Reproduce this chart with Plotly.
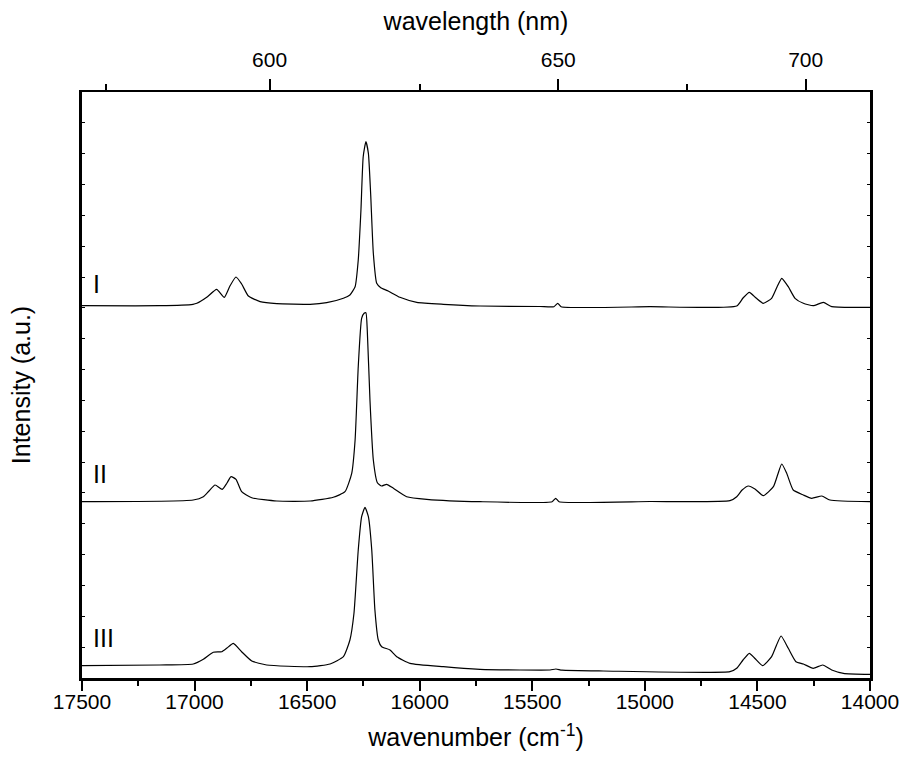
import plotly.graph_objects as go

# Raman spectra (wavenumber in cm-1, intensity in a.u.)
wn_I = [17500, 17155, 17007, 16990, 16946, 16902, 16868, 16843, 16816, 16791,
        16761, 16709, 16635, 16487, 16413, 16339, 16310, 16287, 16273, 16261,
        16251, 16239, 16228, 16218, 16206, 16191, 16173, 16140, 16088, 16013,
        15895, 15732, 15466, 15404, 15387, 15372, 14977, 14592, 14564, 14536,
        14506, 14474, 14437, 14413, 14392, 14363, 14333, 14296, 14252, 14207,
        14170, 14000]
int_I = [12.3, 12.3, 13.7, 14.7, 20.7, 28.7, 20.7, 32, 41, 34,
         22, 16.3, 14.3, 13.7, 15.3, 19.7, 23, 31.3, 58, 108,
         161.3, 176.3, 164.7, 124.7, 64.7, 34.7, 30.3, 27, 20.7, 15.7,
         13.7, 12, 11.5, 11.3, 14.7, 11.3, 11.3, 12, 20, 25.7,
         20, 14.7, 19.7, 31, 39.7, 31.3, 19.7, 14.7, 12.3, 15.7,
         11.3, 10.7]

wn_II = [17500, 17006, 16961, 16936, 16909, 16877, 16856, 16838, 16816, 16791,
         16746, 16635, 16487, 16384, 16332, 16302, 16287, 16273, 16258, 16247,
         16239, 16233, 16221, 16206, 16188, 16169, 16147, 16117, 16058, 15969,
         15732, 15412, 15396, 15381, 14977, 14622, 14592, 14568, 14540, 14511,
         14474, 14429, 14409, 14392, 14370, 14341, 14296, 14259, 14214, 14178,
         14000]
int_II = [11.3, 13, 16.3, 22, 28, 23.7, 30, 36.3, 33.7, 21.3,
          15.3, 12, 12, 15.7, 21.3, 39.7, 73, 146.3, 194.7, 199.7,
          200.3, 183, 113, 53, 30.3, 27, 28.7, 24.7, 16.3, 13.7,
          11.3, 11.3, 14.7, 11.3, 11.5, 12.3, 16.3, 23, 27, 24,
          17.3, 26.3, 39, 49, 39.7, 23, 18, 14.7, 17, 13,
          11.3]

wn_III = [17500, 17155, 17006, 16961, 16917, 16879, 16856, 16828, 16791, 16746,
          16680, 16487, 16398, 16339, 16310, 16292, 16273, 16258, 16243, 16228,
          16213, 16199, 16184, 16169, 16132, 16102, 16043, 15895, 15732, 15555,
          15421, 15395, 15368, 15185, 14622, 14592, 14564, 14536, 14511, 14477,
          14437, 14415, 14395, 14363, 14329, 14296, 14252, 14210, 14170, 14118,
          14000]
int_III = [12.3, 13, 14, 18.7, 25.7, 26.3, 30, 34.7, 26.3, 17,
           13, 11.3, 14, 21.3, 38, 64.7, 128, 161.3, 170.7, 161.3,
           128, 68, 38, 31.3, 28, 21.3, 14.7, 11.3, 8.7, 8,
           8, 9, 7.8, 7, 6.3, 9.7, 18, 24.7, 19.5, 12.3,
           21.3, 33, 42, 29.7, 16.3, 14, 9.7, 13, 8, 4.7,
           3.7]

labels = ["I", "II", "III"]
offsets = [360, 165, 0]
label_y = [394, 204, 40]

wn_ticks = [17500, 17000, 16500, 16000, 15500, 15000, 14500, 14000]
wl_major = [600, 650, 700]
wl_minor = [575, 625, 675]

FONT = "Liberation Sans, Arial, sans-serif"
x_range = [17500, 14000]

fig = go.Figure()
for wn, inten, off in zip([wn_I, wn_II, wn_III], [int_I, int_II, int_III], offsets):
    fig.add_trace(go.Scatter(x=wn, y=[v + off for v in inten], mode="lines",
                             line=dict(color="black", width=1.2, shape="spline", smoothing=0.5),
                             showlegend=False, hoverinfo="skip"))

# invisible trace so the top (wavelength) axis gets drawn
fig.add_trace(go.Scatter(x=wn_I, y=int_I, xaxis="x2", mode="lines", opacity=0,
                         showlegend=False, hoverinfo="skip"))

for lab, ly in zip(labels, label_y):
    fig.add_annotation(x=17458, y=ly, text=lab, showarrow=False, xanchor="left",
                       font=dict(size=25, color="black", family=FONT))

fig.update_layout(
    width=905, height=760,
    margin=dict(l=82, r=35, t=92, b=82),
    plot_bgcolor="white", paper_bgcolor="white",
    font=dict(family=FONT, color="black", size=21),
    xaxis=dict(
        range=x_range, showgrid=False, zeroline=False, automargin=False,
        showline=True, linecolor="black", linewidth=3,
        tickmode="array", tickvals=wn_ticks, ticktext=[str(t) for t in wn_ticks],
        ticks="outside", ticklen=10, tickwidth=2, tickcolor="black",
        ticklabelstandoff=-7,
        minor=dict(tickmode="linear", tick0=14000, dtick=250, ticks="outside",
                   ticklen=5, tickwidth=2, tickcolor="black"),
        tickfont=dict(size=21),
        title=dict(text="wavenumber (cm<sup>-1</sup>)", font=dict(size=25), standoff=17),
    ),
    xaxis2=dict(
        range=x_range, overlaying="x", side="top", showgrid=False, zeroline=False,
        automargin=False,
        showline=True, linecolor="black", linewidth=2,
        tickmode="array", tickvals=[1e7 / w for w in wl_major],
        ticktext=[str(w) for w in wl_major],
        ticks="outside", ticklen=11, tickwidth=2, tickcolor="black",
        ticklabelstandoff=4,
        minor=dict(tickmode="array", tickvals=[1e7 / w for w in wl_minor], ticks="outside",
                   ticklen=6, tickwidth=2, tickcolor="black"),
        tickfont=dict(size=21),
        title=dict(text="wavelength (nm)", font=dict(size=25), standoff=10),
    ),
    yaxis=dict(
        range=[0, 586], showgrid=False, zeroline=False, automargin=False,
        showline=True, linecolor="black", linewidth=3, mirror="ticks",
        tick0=0, dtick=586 / 19, ticks="inside", ticklen=3, tickwidth=1,
        tickcolor="black", showticklabels=False,
        title=dict(text="Intensity (a.u.)", font=dict(size=25), standoff=42),
    ),
)

# drop the browser's default body margin so the figure sits at the page origin
fig.write_html("out.html", config={"displayModeBar": False},
               post_script="document.body.style.margin='0';")
